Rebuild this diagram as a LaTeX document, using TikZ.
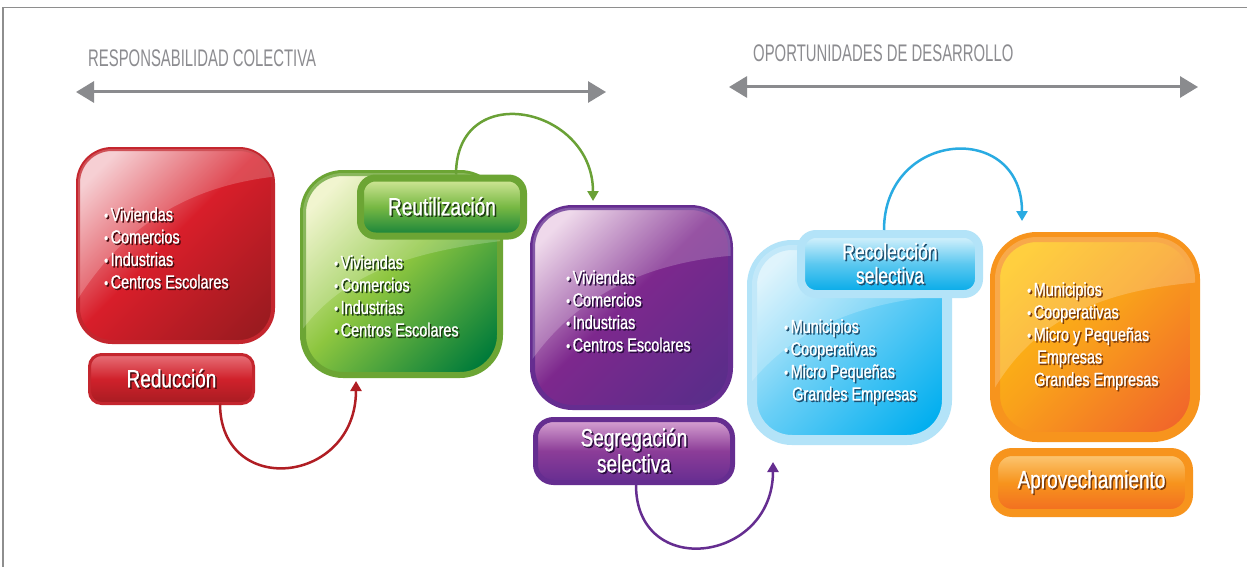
\documentclass[tikz,border=0pt]{standalone}
\usepackage{fontspec}
\setmainfont{Liberation Sans}
\newfontfamily\condf[FakeStretch=0.76,FakeBold=0.8]{Liberation Sans}
\newfontfamily\hdrf[FakeStretch=0.62]{Liberation Sans}
\usetikzlibrary{arrows.meta,calc}

\definecolor{frameC}{HTML}{8E8E8E}
\definecolor{grayA}{HTML}{8A8B8E}
\definecolor{hdrC}{HTML}{8C8C90}
% red
\definecolor{redB}{HTML}{C4262E}
\definecolor{redA}{HTML}{F4C3C8}
\definecolor{redM}{HTML}{D81E2A}
\definecolor{redD}{HTML}{9C1B20}
\definecolor{redLt}{HTML}{E77078}
\definecolor{redLm}{HTML}{D0212B}
\definecolor{redLb}{HTML}{A71C22}
\definecolor{redS}{HTML}{4A0A0E}
\definecolor{redArr}{HTML}{B01E24}
% green
\definecolor{grnB}{HTML}{6CA534}
\definecolor{grnA}{HTML}{EEF3C4}
\definecolor{grnM}{HTML}{8DC63F}
\definecolor{grnD}{HTML}{007B3A}
\definecolor{grnLt}{HTML}{D5E99B}
\definecolor{grnLm}{HTML}{77B843}
\definecolor{grnLb}{HTML}{13813A}
\definecolor{grnS}{HTML}{1F3F12}
\definecolor{grnArr}{HTML}{6AA136}
% purple
\definecolor{purB}{HTML}{652D90}
\definecolor{purA}{HTML}{EBD0E6}
\definecolor{purM}{HTML}{7D288D}
\definecolor{purD}{HTML}{5A2D8A}
\definecolor{purLt}{HTML}{D8A4D3}
\definecolor{purLm}{HTML}{8C3D98}
\definecolor{purLb}{HTML}{662D91}
\definecolor{purS}{HTML}{2A0C3E}
\definecolor{purArr}{HTML}{652D90}
% blue
\definecolor{bluB}{HTML}{B3E3F8}
\definecolor{bluA}{HTML}{D8F2FC}
\definecolor{bluM}{HTML}{6ACFF6}
\definecolor{bluD}{HTML}{00AEEF}
\definecolor{bluLt}{HTML}{E0F5FD}
\definecolor{bluLm}{HTML}{5BC8F0}
\definecolor{bluLb}{HTML}{00A9E8}
\definecolor{bluS}{HTML}{1D4F70}
\definecolor{bluArr}{HTML}{29ABE2}
% orange
\definecolor{orgB}{HTML}{F7941D}
\definecolor{orgA}{HTML}{FFC40F}
\definecolor{orgM}{HTML}{F9A11B}
\definecolor{orgD}{HTML}{F1662A}
\definecolor{orgLt}{HTML}{FCCB7A}
\definecolor{orgLm}{HTML}{F7941D}
\definecolor{orgLb}{HTML}{F26B21}
\definecolor{orgS}{HTML}{7A3A0A}

\colorlet{shc}{black}
\newcommand{\shd}[1]{\leavevmode\rlap{\hspace{1.5pt}\raisebox{-1.5pt}{\color{shc}#1}}#1}
\newcommand{\bul}{\raisebox{0.3pt}{\fontsize{15}{15}\selectfont\textbullet}\hspace{2.5pt}}

\pgfdeclarehorizontalshading{redsh}{100bp}{color(0bp)=(redA); color(22bp)=(redA); color(48bp)=(redM); color(80bp)=(redD); color(100bp)=(redD)}
\pgfdeclarehorizontalshading{grnsh}{100bp}{color(0bp)=(grnA); color(22bp)=(grnA); color(48bp)=(grnM); color(80bp)=(grnD); color(100bp)=(grnD)}
\pgfdeclarehorizontalshading{pursh}{100bp}{color(0bp)=(purA); color(22bp)=(purA); color(48bp)=(purM); color(80bp)=(purD); color(100bp)=(purD)}
\pgfdeclarehorizontalshading{blush}{100bp}{color(0bp)=(bluA); color(22bp)=(bluA); color(48bp)=(bluM); color(80bp)=(bluD); color(100bp)=(bluD)}
\pgfdeclarehorizontalshading{orgsh}{100bp}{color(0bp)=(orgA); color(22bp)=(orgA); color(48bp)=(orgM); color(80bp)=(orgD); color(100bp)=(orgD)}

\begin{document}
\begin{tikzpicture}[x=1pt,y=-1pt,
  hdr/.style={text=hdrC, font=\hdrf\fontsize{24}{26}\selectfont, inner sep=0pt, anchor=west},
  garrow/.style={draw=grayA, line width=3pt, {Triangle[length=18pt,width=21pt]}-{Triangle[length=18pt,width=21pt]}},
  lst/.style={text=white, align=left, inner sep=0pt, anchor=north west, font=\condf\fontsize{19}{22.5}\selectfont\colorlet{shc}{#1}},
  lblfont/.style={text=white, align=center, font=\condf\fontsize{25}{26}\selectfont\colorlet{shc}{#1}},
  conn/.style={line width=2.5pt, -{Triangle[length=10pt,width=11pt]}},
  gloss/.style={fill=white, fill opacity=0.2},
  mainbase/.style={shade, draw, outer sep=0pt, inner sep=0pt, shading angle=-45},
  lblbase/.style={draw, outer sep=0pt, inner sep=0pt},
  redmainst/.style={mainbase, shading=redsh, draw=redB, line width=4pt, rounded corners=34pt, minimum width=195pt, minimum height=193pt},
  grnmainst/.style={mainbase, shading=grnsh, draw=grnB, line width=6pt, rounded corners=40pt, minimum width=197pt, minimum height=202pt},
  purmainst/.style={mainbase, shading=pursh, draw=purB, line width=5pt, rounded corners=40pt, minimum width=198pt, minimum height=200pt},
  blumainst/.style={mainbase, shading=blush, draw=bluB, line width=10pt, rounded corners=40pt, minimum width=195pt, minimum height=195pt},
  orgmainst/.style={mainbase, shading=orgsh, draw=orgB, line width=10pt, rounded corners=42pt, minimum width=200pt, minimum height=200pt},
  redlabst/.style={lblbase, draw=redB, line width=3pt, rounded corners=12pt, minimum width=164pt, minimum height=49pt, top color=redLt, bottom color=redLb, middle color=redLm, lblfont=redS},
  grnlabst/.style={lblbase, draw=grnB, line width=7pt, rounded corners=15pt, minimum width=163pt, minimum height=58pt, top color=grnLt, bottom color=grnLb, middle color=grnLm, lblfont=grnS},
  purlabst/.style={lblbase, draw=purB, line width=5pt, rounded corners=18pt, minimum width=197pt, minimum height=63pt, top color=purLt, bottom color=purLb, middle color=purLm, lblfont=purS},
  blulabst/.style={lblbase, draw=bluB, line width=8pt, rounded corners=15pt, minimum width=178pt, minimum height=60pt, top color=bluLt, bottom color=bluLb, middle color=bluLm, lblfont=bluS, font=\condf\fontsize{23}{24}\selectfont\colorlet{shc}{bluS}},
  orglabst/.style={lblbase, draw=orgB, line width=8pt, rounded corners=18pt, minimum width=195pt, minimum height=61pt, top color=orgLt, bottom color=orgLb, middle color=orgLm, lblfont=orgS}
]
\useasboundingbox (0,0) rectangle (1247,567);
\fill[white] (0,0) rectangle (1247,567);
\draw[frameC, line width=1.4pt] (3,567) -- (3,7.5) -- (1247,7.5);

% headers and double arrows
\node[hdr] (h1) at (88,58) {RESPONSABILIDAD COLECTIVA};
\node[hdr] (h2) at (753,53) {OPORTUNIDADES DE DESARROLLO};
\coordinate (a1l) at (76,92);
\coordinate (a1r) at (606,92);
\coordinate (a2l) at (729,87);
\coordinate (a2r) at (1198,87);
\draw[garrow] (a1l) -- (a1r);
\draw[garrow] (a2l) -- (a2r);

% main boxes
\node[redmainst] (redmain) at (175.5,245.5) {};
\node[grnmainst] (grnmain) at (401.5,274) {};
\node[purmainst] (purmain) at (631.5,307.5) {};
\node[blumainst] (blumain) at (849.5,342.5) {};
\node[orgmainst] (orgmain) at (1095,337) {};

% gloss highlights
\begin{scope}
\clip[rounded corners=34pt] (redmain.south west) rectangle (redmain.north east);
\fill[gloss] (70,312) .. controls (120,225) and (190,185) .. (280,176) -- (280,140) -- (70,140) -- cycle;
\end{scope}
\begin{scope}
\clip[rounded corners=40pt] (grnmain.south west) rectangle (grnmain.north east);
\fill[gloss] (295,340) .. controls (340,270) and (420,250) .. (510,240) -- (510,165) -- (295,165) -- cycle;
\end{scope}
\begin{scope}
\clip[rounded corners=40pt] (purmain.south west) rectangle (purmain.north east);
\fill[gloss] (525,370) .. controls (570,300) and (640,262) .. (740,255) -- (740,200) -- (525,200) -- cycle;
\end{scope}
\begin{scope}
\clip[rounded corners=40pt] (blumain.south west) rectangle (blumain.north east);
\fill[gloss] (745,390) .. controls (790,330) and (860,300) .. (955,295) -- (955,238) -- (745,238) -- cycle;
\end{scope}
\begin{scope}
\clip[rounded corners=42pt] (orgmain.south west) rectangle (orgmain.north east);
\fill[gloss] (988,400) .. controls (1030,320) and (1100,290) .. (1202,282) -- (1202,230) -- (988,230) -- cycle;
\end{scope}

% labels
\node[redlabst] (redlab) at (171.5,379) {\shd{Reducción}};
\node[grnlabst] (grnlab) at (442,207) {\shd{Reutilización}};
\node[purlabst] (purlab) at (634,451) {\shd{Segregación}\\\shd{selectiva}};
\node[blulabst] (blulab) at (890,264) {\shd{Recolección}\\\shd{selectiva}};
\node[orglabst] (orglab) at (1091.5,482.5) {\shd{Aprovechamiento}};

% lists
\node[lst=redS] (redlist) at (104,207) {\shd{\bul Viviendas}\\\shd{\bul Comercios}\\\shd{\bul Industrias}\\\shd{\bul Centros Escolares}};
\node[lst=grnS] (grnlist) at (334,255) {\shd{\bul Viviendas}\\\shd{\bul Comercios}\\\shd{\bul Industrias}\\\shd{\bul Centros Escolares}};
\node[lst=purS] (purlist) at (566,270) {\shd{\bul Viviendas}\\\shd{\bul Comercios}\\\shd{\bul Industrias}\\\shd{\bul Centros Escolares}};
\node[lst=bluS] (blulist) at (784,319) {\shd{\bul Municipios}\\\shd{\bul Cooperativas}\\\shd{\bul Micro Pequeñas}\\\hspace{8pt}\shd{Grandes Empresas}};
\node[lst=orgS] (orglist) at (1027,282) {\shd{\bul Municipios}\\\shd{\bul Cooperativas}\\\shd{\bul Micro y Pequeñas}\\\hspace{10pt}\shd{Empresas}\\\hspace{7pt}\shd{Grandes Empresas}};

% connectors
\draw[conn, redArr] ([xshift=48.5pt]redlab.south) .. controls +(0,95) and +(0,104) .. ([xshift=-45.5pt,yshift=-6pt]grnmain.south);
\draw[conn, grnArr] ([xshift=14pt,yshift=3.5pt]grnlab.north) .. controls +(0,-96) and +(0,-95) .. ([xshift=-38.5pt,yshift=6.5pt]purmain.north);
\draw[conn, purArr] ([xshift=2pt,yshift=-2.5pt]purlab.south) .. controls +(0,95) and +(0,101) .. ([xshift=-76.5pt,yshift=-22pt]blumain.south);
\draw[conn, bluArr] ([xshift=-6pt,yshift=4pt]blulab.north) .. controls +(0,-100) and +(0,-101) .. ([xshift=-73pt,yshift=16pt]orgmain.north);
\end{tikzpicture}
\end{document}
